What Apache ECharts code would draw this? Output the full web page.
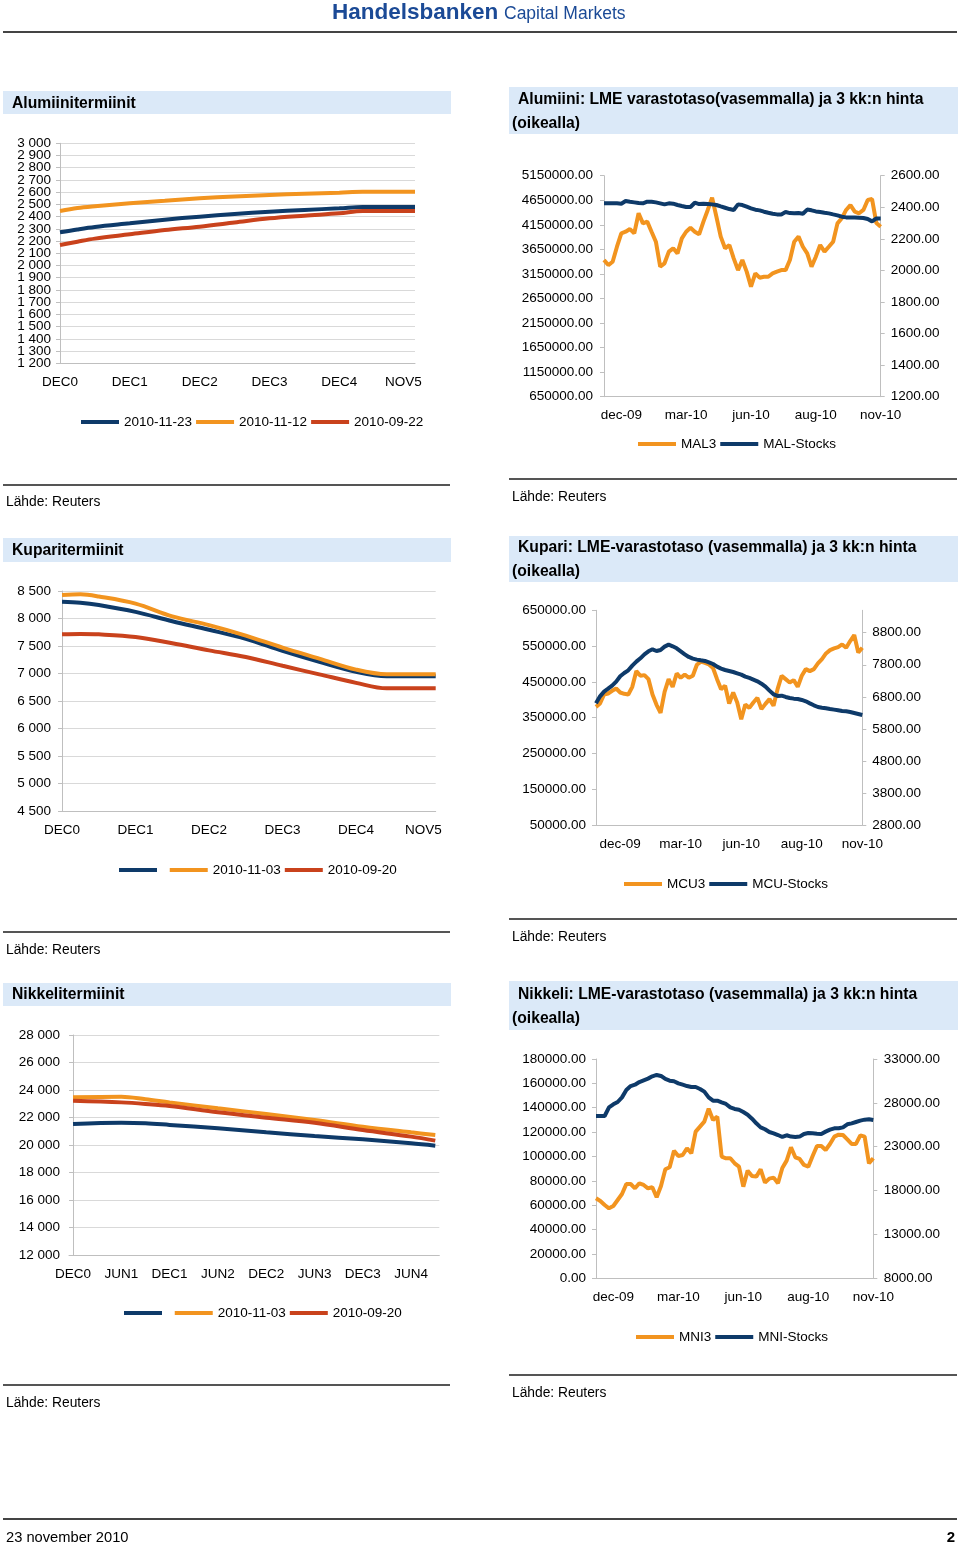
<!DOCTYPE html>
<html><head><meta charset="utf-8">
<script src="https://cdn.jsdelivr.net/npm/echarts@6/dist/echarts.min.js"></script>
<style>html,body{margin:0;padding:0;background:#fff}#c{width:960px;height:1545px}</style>
</head><body><div id="c"></div>
<script>
// ---------- Alumiinitermiinit ----------
const alMonths = [0,3,6,12,18,24,30,36,42,48,52,61];
const al_20101123 = [2272,2295,2315,2345,2375,2400,2422,2440,2455,2468,2479,2479];
const al_20101112 = [2446,2470,2485,2510,2530,2550,2565,2577,2587,2596,2603,2603];
const al_20100922 = [2168,2195,2220,2255,2290,2318,2352,2386,2408,2427,2446,2446];
const alTickMonths = [0,12,24,36,48,59];
const alTickLabels = ['DEC0','DEC1','DEC2','DEC3','DEC4','NOV5'];
const alYTicks = [1200,1300,1400,1500,1600,1700,1800,1900,2000,2100,2200,2300,2400,2500,2600,2700,2800,2900,3000];

// ---------- Alumiini LME ----------
const malTickIdx = [4,19,34,49,64];
const malTickLabels = ['dec-09','mar-10','jun-10','aug-10','nov-10'];
const mal3 = [2066,2034,2055,2150,2235,2245,2262,2235,2362,2298,2309,2245,2182,2024,2045,2119,2140,2108,2203,2245,2270,2245,2228,2309,2383,2461,2340,2214,2140,2161,2076,2002,2066,1992,1897,1981,1954,1960,1960,1981,1992,2002,2002,2066,2182,2214,2150,2108,2024,2087,2161,2119,2150,2182,2298,2330,2383,2414,2372,2362,2383,2446,2452,2300,2277];
const malStocks = [4587000,4587000,4587000,4587000,4580000,4634000,4620000,4607000,4593000,4587000,4620000,4620000,4607000,4587000,4566000,4587000,4580000,4553000,4532000,4512000,4512000,4600000,4573000,4580000,4573000,4566000,4553000,4525000,4498000,4471000,4451000,4566000,4553000,4519000,4485000,4458000,4444000,4417000,4396000,4376000,4362000,4362000,4410000,4389000,4383000,4389000,4376000,4460000,4445000,4423000,4410000,4396000,4383000,4362000,4342000,4315000,4301000,4301000,4301000,4295000,4288000,4267000,4220000,4281000,4281000];
const malLeftTicks = [650000,1150000,1650000,2150000,2650000,3150000,3650000,4150000,4650000,5150000];

// ---------- Kuparitermiinit ----------
const cuMonths = [0,3,6,12,18,24,30,36,42,48,53,61];
const cu_unnamed = [8306,8288,8245,8120,7950,7795,7630,7410,7210,7030,6950,6950];
const cu_20101103 = [8427,8439,8400,8270,8040,7880,7690,7470,7270,7070,6985,6985];
const cu_20100920 = [7712,7718,7712,7665,7550,7420,7300,7140,6985,6830,6730,6730];
const cuTickMonths = [0,12,24,36,48,59];
const cuTickLabels = ['DEC0','DEC1','DEC2','DEC3','DEC4','NOV5'];

// ---------- Kupari LME ----------
const mcuTickIdx = [6,21,36,51,66];
const mcuTickLabels = ['dec-09','mar-10','jun-10','aug-10','nov-10'];
const mcu3 = [6487,6592,6873,6904,6987,7060,6935,6894,6873,7112,7602,7456,7477,7352,6873,6550,6300,6956,7352,7112,7529,7394,7498,7394,7456,7800,7900,7862,7810,7700,7352,7040,7144,6592,6935,6623,6100,6560,6456,6623,6769,6415,6581,6727,6519,7040,7456,7352,7248,7321,7112,7456,7665,7602,7665,7842,7977,8154,8258,8310,8352,8435,8331,8540,8727,8185,8331];
const mcuStocks = [390000,409600,422700,431000,439400,450600,465500,474800,482300,495300,506500,515800,527000,535400,541000,536300,539100,548400,554000,549400,543800,535400,527000,519600,514900,512100,510200,508400,504700,500000,492500,487000,483200,480400,477600,473900,470200,464600,460900,456200,451500,445000,436600,425500,415200,410600,411500,407800,405000,403100,402200,399400,395600,390000,384500,379800,377900,376100,374200,372400,370500,368600,367700,365800,363000,360200,357400];
const mcuLeftTicks = [50000,150000,250000,350000,450000,550000,650000];
const mcuRightTicks = [2800,3800,4800,5800,6800,7800,8800];

// ---------- Nikkelitermiinit ----------
const niMonths = [0,6,9,12,18,24,30,36,42,45];
const ni_unnamed = [21530,21620,21580,21460,21210,20920,20650,20410,20120,19950];
const ni_20101103 = [23470,23515,23330,23100,22670,22255,21820,21330,20920,20730];
const ni_20100920 = [23220,23100,22990,22840,22380,21990,21620,21090,20610,20320];
const niTickMonths = [0,6,12,18,24,30,36,42];
const niTickLabels = ['DEC0','JUN1','DEC1','JUN2','DEC2','JUN3','DEC3','JUN4'];

// ---------- Nikkeli LME ----------
const mniTickIdx = [4,19,34,49,64];
const mniTickLabels = ['dec-09','mar-10','jun-10','aug-10','nov-10'];
const mni3 = [17120,16816,16360,15980,16246,16930,17614,18754,18754,18260,18830,18640,18260,18374,17234,18526,20425,20653,22553,21945,22059,22819,22249,24718,25288,25858,27339,26048,26428,21869,21679,21679,21109,20729,18450,20273,19666,19590,20425,18906,19362,19476,18830,20577,21413,22933,21793,21603,20919,20729,21945,23085,23085,22629,23313,24148,24376,24338,23844,23313,23313,24300,24148,21109,21679];
const mniStocks = [133200,133200,133200,140300,142800,144700,148500,154600,157800,158900,161100,162500,163900,165800,166900,166100,163600,162200,161700,160000,158900,157800,157000,157000,155400,153200,148500,145800,145800,144400,143100,140300,139000,138400,136500,134300,131000,127200,123900,122300,120100,119000,117600,116000,117400,116300,116000,116300,118500,119300,119000,118700,118500,120400,122000,123100,123100,123900,126400,127200,128300,129400,130200,130500,129900];
const mniRightTicks = [8000,13000,18000,23000,28000,33000];

// ---------- helpers ----------
const FONT = '"Liberation Sans", Arial, sans-serif';
const NAVY = '#0e3a69', ORANGE = '#f2941f', RED = '#c9421c';
const AXIS = '#bfbfbf', GRID = '#d9d9d9';
const pairs = (xs, ys) => xs.map((x, i) => [x, ys[i]]);
const thou = v => String(v).replace(/\B(?=(\d{3})+(?!\d))/g, ' ');
const lbl = {color: '#000', fontSize: 13.5, fontFamily: FONT};

function termX(grid, min, max, months, labels) {
  return {type: 'value', gridIndex: grid, min: min, max: max,
    axisLine: {show: true, onZero: false, lineStyle: {color: AXIS}},
    axisTick: {show: false}, splitLine: {show: false},
    axisLabel: Object.assign({}, lbl, {customValues: months, margin: 12,
      formatter: v => labels[months.indexOf(v)] || ''})};
}
function termY(grid, min, max, interval, labelValues) {
  const ax = {type: 'value', gridIndex: grid, min: min, max: max, interval: interval,
    axisLine: {show: true, lineStyle: {color: AXIS}},
    axisTick: {show: true, length: 4, lineStyle: {color: AXIS}},
    splitLine: {show: true, lineStyle: {color: GRID}},
    axisLabel: Object.assign({}, lbl, {margin: 9, formatter: thou})};
  if (labelValues) ax.axisLabel.customValues = labelValues;
  return ax;
}
// label-only companion axis (same scale, no line) so dense tick labels are not dropped
function labelOnlyY(grid, min, max, labelValues) {
  return {type: 'value', gridIndex: grid, position: 'left', offset: 0, min: min, max: max,
    axisLine: {show: false}, axisTick: {show: false}, splitLine: {show: false},
    axisLabel: Object.assign({}, lbl, {margin: 9, formatter: thou, customValues: labelValues})};
}
function lmeX(grid, n, idx, labels) {
  return {type: 'category', gridIndex: grid, boundaryGap: false,
    data: Array.from({length: n}, (_, i) => String(i)),
    axisLine: {show: true, onZero: false, lineStyle: {color: AXIS}},
    axisTick: {show: false}, splitLine: {show: false},
    axisLabel: Object.assign({}, lbl, {margin: 12, interval: i => idx.indexOf(i) >= 0,
      formatter: (v, i) => labels[idx.indexOf(i)] || ''})};
}
function lmeY(grid, pos, min, max, ticks, interval, margin) {
  const ax = {type: 'value', gridIndex: grid, position: pos, min: min, max: max,
    axisLine: {show: true, onZero: false, lineStyle: {color: AXIS}},
    axisTick: {show: true, length: 4, lineStyle: {color: AXIS}},
    splitLine: {show: false},
    axisLabel: Object.assign({}, lbl, {margin: margin, formatter: v => Number(v).toFixed(2)})};
  if (ticks) { ax.axisLabel.customValues = ticks; ax.axisTick.customValues = ticks; }
  if (interval) ax.interval = interval;
  return ax;
}
function line(name, color, xi, yi, data, smooth) {
  return {type: 'line', name: name, xAxisIndex: xi, yAxisIndex: yi, data: data,
    symbol: 'none', smooth: smooth || false, color: color,
    lineStyle: {color: color, width: 4}, itemStyle: {color: color}, silent: true};
}
function legend(left, top, names) {
  return {left: left, top: top, data: names, orient: 'horizontal', padding: 0,
    itemWidth: 38, itemHeight: 4, itemGap: 4, icon: 'rect', selectedMode: false,
    textStyle: {color: '#000', fontSize: 13.5, fontFamily: FONT}};
}

const G = [];
function box(x, y, w, h) { G.push({type: 'rect', shape: {x: x, y: y, width: w, height: h}, style: {fill: '#dbe9f8'}}); }
function txt(x, y, s, font, align, fill) {
  G.push({type: 'text', x: x, y: y, style: {text: s, font: font, fill: fill || '#000', align: align || 'left', verticalAlign: 'middle'}});
}
function hline(x1, x2, y, w, c) { G.push({type: 'line', shape: {x1: x1, y1: y, x2: x2, y2: y}, style: {stroke: c || '#555', lineWidth: w || 2}}); }
const TB = 'bold 15.7px ' + FONT, TS = '13.8px ' + FONT;

// header & footer
txt(332, 13, 'Handelsbanken', 'bold 22.5px ' + FONT, 'left', '#1b4a96');
txt(504, 14.5, 'Capital Markets', '17.5px ' + FONT, 'left', '#1b4a96');
hline(3, 957, 32, 2, '#444');
hline(3, 957, 1519, 2, '#444');
txt(6, 1538, '23 november 2010', '14.7px ' + FONT);
txt(955, 1538, '2', 'bold 15px ' + FONT, 'right');

// titles
box(3, 91, 448, 23); txt(12, 104, 'Alumiinitermiinit', TB);
box(509, 87, 449, 47); txt(518, 100, 'Alumiini: LME varastotaso(vasemmalla) ja 3 kk:n hinta', TB); txt(512, 124, '(oikealla)', TB);
box(3, 538, 448, 24); txt(12, 551, 'Kuparitermiinit', TB);
box(509, 536, 449, 46); txt(518, 548, 'Kupari: LME-varastotaso (vasemmalla) ja 3 kk:n hinta', TB); txt(512, 572, '(oikealla)', TB);
box(3, 983, 448, 23); txt(12, 995, 'Nikkelitermiinit', TB);
box(509, 981, 449, 49); txt(518, 995, 'Nikkeli: LME-varastotaso (vasemmalla) ja 3 kk:n hinta', TB); txt(512, 1019, '(oikealla)', TB);

// sources
hline(3, 450, 485); txt(6, 502, 'Lähde: Reuters', TS);
hline(509, 957, 479); txt(512, 497, 'Lähde: Reuters', TS);
hline(3, 450, 932); txt(6, 950, 'Lähde: Reuters', TS);
hline(509, 957, 919); txt(512, 937, 'Lähde: Reuters', TS);
hline(3, 450, 1385); txt(6, 1403, 'Lähde: Reuters', TS);
hline(509, 957, 1375); txt(512, 1393, 'Lähde: Reuters', TS);

const alYEven = alYTicks.filter((v, i) => i % 2 === 0);
const alYOdd = alYTicks.filter((v, i) => i % 2 === 1);

const option = {
  animation: false,
  textStyle: {fontFamily: FONT},
  grid: [
    {left: 60, top: 143.3, width: 355, height: 220},
    {left: 604, top: 175.7, width: 276.7, height: 221},
    {left: 60, top: 591, width: 375.7, height: 220},
    {left: 596, top: 610.3, width: 266.3, height: 214.7},
    {left: 69, top: 1035, width: 370.3, height: 220},
    {left: 596, top: 1059, width: 277.3, height: 219.3}
  ],
  xAxis: [
    termX(0, 0, 61, alTickMonths, alTickLabels),
    lmeX(1, mal3.length, malTickIdx, malTickLabels),
    termX(2, -0.33, 61, cuTickMonths, cuTickLabels),
    lmeX(3, mcu3.length, mcuTickIdx, mcuTickLabels),
    termX(4, -0.5, 45.5, niTickMonths, niTickLabels),
    lmeX(5, mni3.length, mniTickIdx, mniTickLabels)
  ],
  yAxis: [
    termY(0, 1200, 3000, 100, alYEven),
    lmeY(1, 'left', 650000, 5150000, malLeftTicks, null, 11),
    lmeY(1, 'right', 1200, 2600, null, 200, 10),
    termY(2, 4500, 8500, 500),
    lmeY(3, 'left', 50000, 650000, mcuLeftTicks, null, 10),
    lmeY(3, 'right', 2800, 9500, mcuRightTicks, null, 10),
    termY(4, 12000, 28000, 2000),
    lmeY(5, 'left', 0, 180000, null, 20000, 10),
    lmeY(5, 'right', 8000, 33000, mniRightTicks, null, 10.5),
    labelOnlyY(0, 1200, 3000, alYOdd)
  ],
  legend: [
    legend(81, 415, ['2010-11-23', '2010-11-12', '2010-09-22']),
    legend(638, 437, ['MAL3', 'MAL-Stocks']),
    legend(119, 863, [' ', '2010-11-03', '2010-09-20']),
    legend(624, 877, ['MCU3', 'MCU-Stocks']),
    legend(124, 1306, [' ', '2010-11-03', '2010-09-20']),
    legend(636, 1330, ['MNI3', 'MNI-Stocks'])
  ],
  series: [
    line('2010-11-23', NAVY, 0, 0, pairs(alMonths, al_20101123), 0.35),
    line('2010-11-12', ORANGE, 0, 0, pairs(alMonths, al_20101112), 0.35),
    line('2010-09-22', RED, 0, 0, pairs(alMonths, al_20100922), 0.35),
    line('MAL3', ORANGE, 1, 2, mal3),
    line('MAL-Stocks', NAVY, 1, 1, malStocks),
    line(' ', NAVY, 2, 3, pairs(cuMonths, cu_unnamed), 0.35),
    line('2010-11-03', ORANGE, 2, 3, pairs(cuMonths, cu_20101103), 0.35),
    line('2010-09-20', RED, 2, 3, pairs(cuMonths, cu_20100920), 0.35),
    line('MCU3', ORANGE, 3, 5, mcu3),
    line('MCU-Stocks', NAVY, 3, 4, mcuStocks),
    line(' ', NAVY, 4, 6, pairs(niMonths, ni_unnamed), 0.35),
    line('2010-11-03', ORANGE, 4, 6, pairs(niMonths, ni_20101103), 0.35),
    line('2010-09-20', RED, 4, 6, pairs(niMonths, ni_20100920), 0.35),
    line('MNI3', ORANGE, 5, 8, mni3),
    line('MNI-Stocks', NAVY, 5, 7, mniStocks)
  ],
  graphic: {elements: G}
};
const chart = echarts.init(document.getElementById('c'), null, {renderer: 'canvas'});
chart.setOption(option);
</script></body></html>
